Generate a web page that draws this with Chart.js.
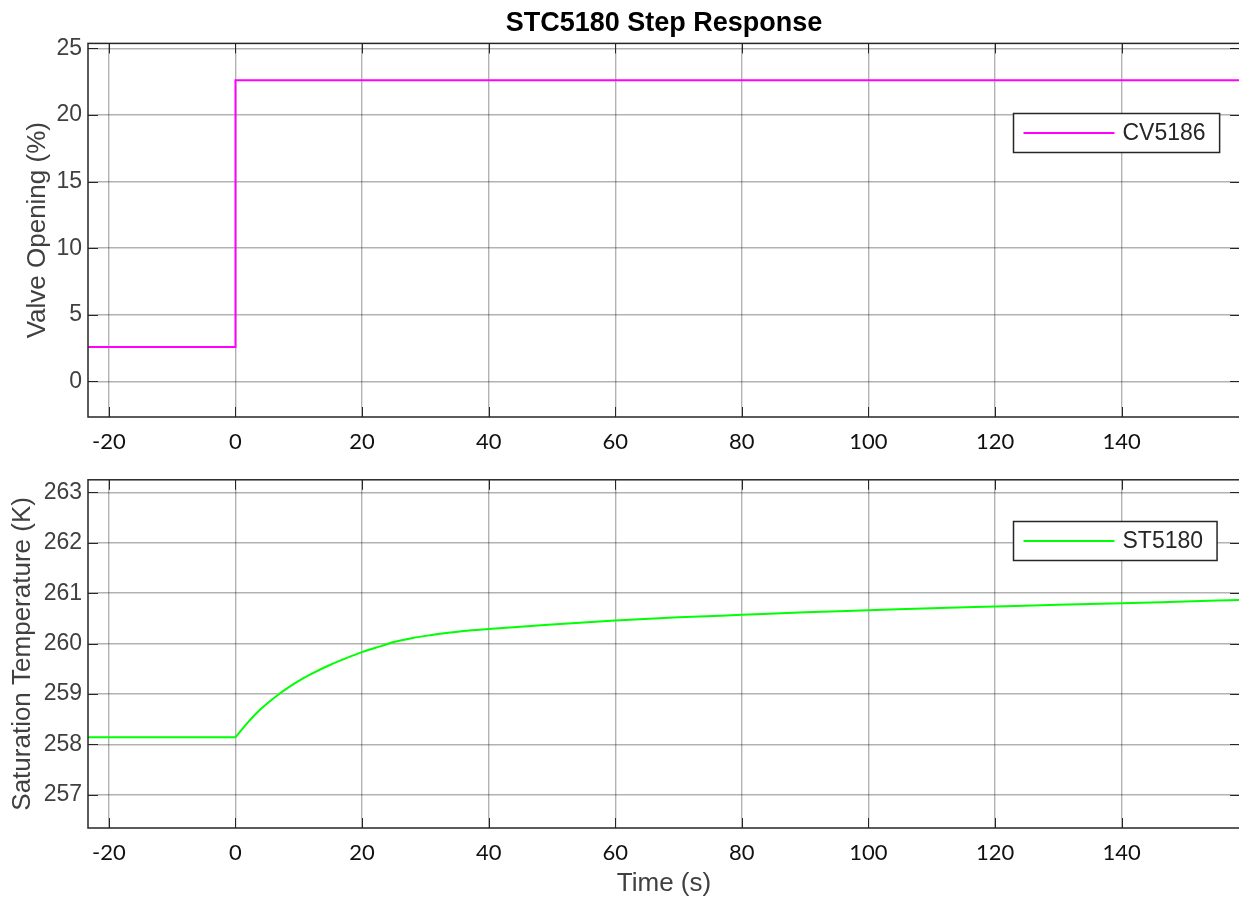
<!DOCTYPE html>
<html>
<head>
<meta charset="utf-8">
<title>STC5180 Step Response</title>
<script src="https://cdn.jsdelivr.net/npm/chart.js@4.4.1/dist/chart.umd.min.js"></script>
<style>
  html, body { margin: 0; padding: 0; background: #fff; overflow: hidden; }
  .panel { position: absolute; left: 0; }
  #topPanel { top: 0; }
  #bottomPanel { top: 460px; }
</style>
</head>
<body>
<div class="panel" id="topPanel"><canvas id="valveChart" width="1241" height="460"></canvas></div>
<div class="panel" id="bottomPanel"><canvas id="tempChart" width="1241" height="439"></canvas></div>
<script>
// Time axis (s)
const timeMin = -23.3;
const timeMax = 158.7;
const timeTicks = [-20, 0, 20, 40, 60, 80, 100, 120, 140];

// CV5186 valve opening (%), step at t = 0
const valveTime = [-23.3, 0, 0, 158.7];
const valveOpening = [2.58, 2.58, 22.61, 22.61];
const valveTicks = [0, 5, 10, 15, 20, 25];
const valveLimits = [-2.68, 25.38];

// ST5180 saturation temperature (K): flat before the step, then the response
const tempBaseTime = [-23.3, 0];
const tempBaseValue = [258.14, 258.14];
const tempTime = [0, 2, 4, 7, 10, 12, 15, 17.5, 20, 23, 25, 28, 31, 33, 36, 40,
                  50, 60, 70, 80, 90, 100, 110, 120, 130, 140, 150, 158.7];
const tempValue = [258.14, 258.44, 258.70, 259.01, 259.26, 259.40, 259.58, 259.71,
                   259.83, 259.95, 260.03, 260.11, 260.17, 260.205, 260.25, 260.29,
                   260.38, 260.46, 260.52, 260.57, 260.62, 260.66, 260.70, 260.735,
                   260.77, 260.80, 260.835, 260.865];
const tempTicks = [257, 258, 259, 260, 261, 262, 263];
const tempLimits = [256.34, 263.25];

const axisColor = '#262626';
const gridColor = 'rgba(0, 0, 0, 0.3)';
const sansFont = '"Liberation Sans", Arial, sans-serif';

// MATLAB-like axes box with inward tick marks
const axesBox = {
    id: 'axesBox',
    afterDatasetsDraw(chart) {
        const { ctx, chartArea: a, scales } = chart;
        const tl = 10;
        ctx.save();
        ctx.strokeStyle = axisColor;
        ctx.lineWidth = 1;
        ctx.beginPath();
        scales.x.ticks.forEach(t => {
            const px = Math.round(scales.x.getPixelForValue(t.value)) + 0.5;
            ctx.moveTo(px, a.bottom); ctx.lineTo(px, a.bottom - tl);
            ctx.moveTo(px, a.top); ctx.lineTo(px, a.top + tl);
        });
        scales.y.ticks.forEach(t => {
            const py = Math.round(scales.y.getPixelForValue(t.value)) + 0.5;
            ctx.moveTo(a.left, py); ctx.lineTo(a.left + tl, py);
            ctx.moveTo(a.right, py); ctx.lineTo(a.right - tl, py);
        });
        ctx.stroke();
        ctx.lineWidth = 1.5;
        ctx.strokeRect(a.left, a.top, a.right - a.left, a.bottom - a.top);
        ctx.restore();
    }
};

// Boxed legend inside the upper right of the axes
const boxLegend = {
    id: 'boxLegend',
    afterDraw(chart, args, opts) {
        const { ctx, chartArea: a } = chart;
        const ds = chart.data.datasets[0];
        ctx.save();
        ctx.font = '23px ' + sansFont;
        const textW = ctx.measureText(ds.label).width;
        const w = 10 + 91 + 8 + textW + 14;
        const h = 39;
        const x = Math.round(a.right - opts.right - w) + 0.5;
        const y = Math.round(a.top + opts.top) + 0.5;
        ctx.fillStyle = '#fff';
        ctx.fillRect(x, y, w, h);
        ctx.strokeStyle = axisColor;
        ctx.lineWidth = 1.5;
        ctx.strokeRect(x, y, w, h);
        ctx.strokeStyle = ds.borderColor;
        ctx.lineWidth = 2;
        ctx.beginPath();
        ctx.moveTo(x + 10, y + h / 2);
        ctx.lineTo(x + 101, y + h / 2);
        ctx.stroke();
        ctx.fillStyle = axisColor;
        ctx.textBaseline = 'middle';
        ctx.fillText(ds.label, x + 109, y + h / 2 + 1);
        ctx.restore();
    }
};

function toPoints(xs, ys) {
    return xs.map((t, i) => ({ x: t, y: ys[i] }));
}

function buildChart(canvasId, cfg) {
    const datasets = [{
        label: cfg.label,
        data: toPoints(cfg.xs, cfg.ys),
        borderColor: cfg.color,
        borderWidth: 2,
        pointRadius: 0,
        fill: false,
        tension: 0,
        cubicInterpolationMode: cfg.smooth ? 'monotone' : 'default'
    }];
    // flat lead-in segment drawn separately so the curve keeps its corner at t = 0
    if (cfg.leadXs) {
        datasets.push({
            label: '',
            data: toPoints(cfg.leadXs, cfg.leadYs),
            borderColor: cfg.color,
            borderWidth: 2,
            pointRadius: 0,
            fill: false,
            tension: 0
        });
    }
    return new Chart(document.getElementById(canvasId), {
        type: 'line',
        data: { datasets: datasets },
        options: {
            responsive: false,
            animation: false,
            devicePixelRatio: 1,
            layout: { padding: { top: cfg.padTop, right: 1, left: 0, bottom: 0 } },
            plugins: {
                legend: { display: false },
                tooltip: { enabled: false },
                title: cfg.title ? {
                    display: true,
                    text: cfg.title,
                    fullSize: false,
                    color: '#000',
                    font: { family: sansFont, size: 27, weight: 'bold' },
                    padding: { top: 6, bottom: 4 }
                } : { display: false },
                boxLegend: cfg.legendPos
            },
            scales: {
                x: {
                    type: 'linear',
                    min: timeMin,
                    max: timeMax,
                    afterBuildTicks: s => { s.ticks = timeTicks.map(v => ({ value: v })); },
                    afterFit: s => { s.height = cfg.xAxisHeight; },
                    grid: { color: gridColor, lineWidth: 1.4, drawTicks: false },
                    border: { display: false },
                    ticks: {
                        padding: 12,
                        maxRotation: 0,
                        color: '#111',
                        font: { family: 'Lato, "Open Sans", sans-serif', size: 22 }
                    },
                    title: cfg.xTitle ? {
                        display: true,
                        text: cfg.xTitle,
                        color: '#404040',
                        font: { family: sansFont, size: 26 },
                        padding: { top: 0, bottom: 0 }
                    } : { display: false }
                },
                y: {
                    type: 'linear',
                    min: cfg.yLimits[0],
                    max: cfg.yLimits[1],
                    afterBuildTicks: s => { s.ticks = cfg.yTicks.map(v => ({ value: v })); },
                    afterFit: s => { s.width = 88; },
                    grid: { color: gridColor, lineWidth: 1.4, drawTicks: false },
                    border: { display: false },
                    ticks: {
                        padding: 6,
                        color: '#404040',
                        font: { family: sansFont, size: 23 }
                    },
                    title: {
                        display: true,
                        text: cfg.yTitle,
                        color: '#404040',
                        font: { family: sansFont, size: 26 },
                        padding: { top: cfg.yTitlePad, bottom: 0 }
                    }
                }
            }
        },
        plugins: [axesBox, boxLegend]
    });
}

buildChart('valveChart', {
    label: 'CV5186',
    xs: valveTime,
    ys: valveOpening,
    color: '#ff00ff',
    smooth: false,
    title: 'STC5180 Step Response',
    padTop: 1,
    xAxisHeight: 43,
    yLimits: valveLimits,
    yTicks: valveTicks,
    yTitle: 'Valve Opening (%)',
    yTitlePad: 22,
    legendPos: { right: 21, top: 70 }
});

buildChart('tempChart', {
    label: 'ST5180',
    xs: tempTime,
    ys: tempValue,
    leadXs: tempBaseTime,
    leadYs: tempBaseValue,
    color: '#00ff00',
    smooth: true,
    padTop: 18,
    xAxisHeight: 71,
    xTitle: 'Time (s)',
    yLimits: tempLimits,
    yTicks: tempTicks,
    yTitle: 'Saturation Temperature (K)',
    yTitlePad: 7,
    legendPos: { right: 23, top: 41 }
});
</script>
</body>
</html>
